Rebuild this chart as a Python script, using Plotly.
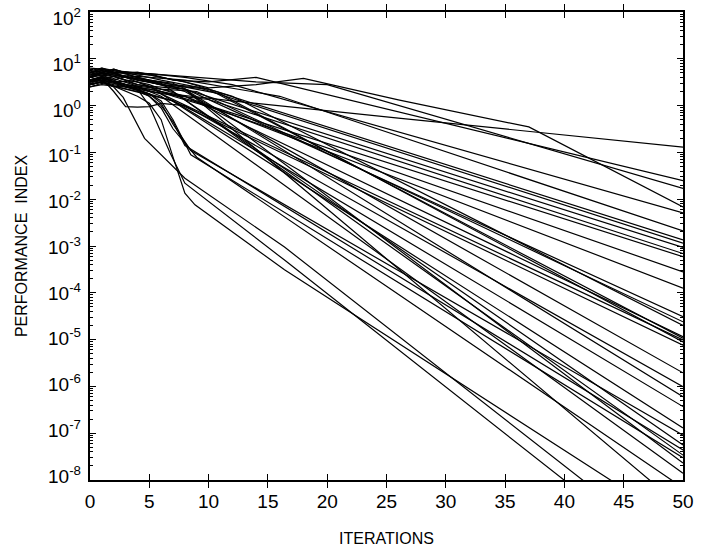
import plotly.graph_objects as go

# ---- slow runs ----
run_01_it = [0, 1, 2, 3, 4, 5, 12, 26, 50]
run_01_pi = [3.5, 4.2, 3.8, 3.2, 2.6, 2.0, 1.26, 0.54, 0.13]
run_02_it = [0, 1, 2, 3, 4, 6, 8, 10, 14, 18, 26, 37, 50]
run_02_pi = [4.0, 5.2, 6.0, 5.0, 5.2, 4.0, 3.2, 2.4, 2.8, 3.8, 1.32, 0.35, 6.8e-3]
run_03_it = [0, 1, 2, 3, 5, 7, 10, 14, 50]
run_03_pi = [4.5, 5.6, 5.0, 5.2, 4.8, 3.5, 3.2, 4.0, 0.025]
run_04_it = [0, 1, 2, 3, 4, 6, 9, 14, 20, 50]
run_04_pi = [5.0, 6.3, 5.6, 5.2, 5.0, 4.6, 4.0, 3.2, 2.8, 0.017]
run_05_it = [0, 1, 2, 3, 4, 5, 8, 12, 50]
run_05_pi = [5.6, 5.0, 6.0, 5.0, 4.5, 4.8, 4.0, 2.8, 5.1e-3]

# ---- medium runs ----
run_06_it = [0, 1, 2, 3, 4, 5, 8, 16, 50]
run_06_pi = [4.2, 5.0, 4.5, 4.0, 4.2, 4.0, 3.5, 1.58, 2.1e-3]
run_07_it = [0, 1, 2, 3, 4, 6, 10, 50]
run_07_pi = [3.2, 4.0, 3.5, 4.2, 3.5, 2.8, 2.24, 1.35e-3]
run_08_it = [0, 1, 2, 3, 5, 7, 9, 50]
run_08_pi = [5.0, 4.5, 5.2, 4.0, 3.5, 2.8, 2.5, 1.15e-3]
run_09_it = [0, 1, 2, 3, 4, 5, 8, 50]
run_09_pi = [3.5, 4.2, 3.2, 3.3, 2.8, 2.6, 2.24, 9.3e-4]
run_10_it = [0, 1, 2, 3, 4, 5, 7, 10, 50]
run_10_pi = [2.8, 3.2, 2.6, 2.5, 2.24, 2.0, 1.66, 1.35, 6.9e-4]
run_11_it = [0, 1, 2, 3, 4, 6, 8, 10, 50]
run_11_pi = [4.0, 3.5, 3.2, 2.8, 2.5, 2.0, 1.41, 1.0, 5.9e-4]
run_12_it = [0, 1, 2, 3, 4, 5, 7, 10, 50]
run_12_pi = [5.2, 5.6, 4.8, 4.0, 3.2, 2.5, 1.58, 0.95, 2.8e-4]
run_13_it = [0, 1, 2, 3, 4, 5, 6, 8, 10, 50]
run_13_pi = [3.2, 3.5, 4.2, 3.5, 3.2, 2.8, 2.24, 1.58, 1.0, 1.26e-4]

# ---- runs ending near 1e-5 ----
run_14_it = [0, 1, 2, 3, 4, 5, 7, 50]
run_14_pi = [4.0, 4.8, 4.2, 4.5, 4.0, 3.5, 3.0, 3.1e-5]
run_15_it = [0, 1, 2, 3, 4, 6, 9, 50]
run_15_pi = [3.2, 3.8, 3.3, 2.8, 2.6, 2.24, 2.0, 2.4e-5]
run_16_it = [0, 1, 2, 3, 5, 8, 12, 50]
run_16_pi = [5.0, 5.6, 4.8, 5.2, 4.5, 3.2, 1.58, 2.0e-5]
run_17_it = [0, 1, 2, 3, 4, 5, 8, 50]
run_17_pi = [2.8, 3.2, 2.8, 2.5, 2.4, 2.24, 1.58, 1.15e-5]
run_18_it = [0, 1, 2, 3, 4, 6, 10, 50]
run_18_pi = [6.3, 6.0, 5.2, 5.0, 4.5, 3.5, 2.24, 1.07e-5]
run_19_it = [0, 1, 2, 3, 4, 5, 6, 50]
run_19_pi = [3.5, 4.0, 3.2, 2.8, 2.5, 2.1, 1.78, 9.8e-6]
run_20_it = [0, 1, 2, 3, 4, 5, 7, 11, 50]
run_20_pi = [4.5, 5.0, 5.6, 4.8, 4.0, 3.5, 2.8, 1.78, 8.9e-6]
run_21_it = [0, 1, 2, 3, 4, 5, 7, 50]
run_21_pi = [2.5, 3.0, 2.6, 2.24, 2.0, 1.66, 1.26, 7.6e-6]

# ---- runs ending near 1e-6 ----
run_22_it = [0, 1, 2, 3, 4, 5, 8, 50]
run_22_pi = [4.2, 5.0, 4.5, 4.0, 3.5, 3.2, 2.0, 1.95e-6]
run_23_it = [0, 1, 2, 3, 4, 5, 6, 8, 50]
run_23_pi = [3.2, 3.8, 2.0, 0.95, 0.93, 0.95, 1.12, 1.0, 9.8e-7]
run_24_it = [0, 1, 2, 3, 4, 5, 6, 8, 50]
run_24_pi = [5.2, 6.0, 5.0, 4.2, 3.5, 3.2, 2.8, 2.24, 6.0e-7]
run_25_it = [0, 1, 2, 3, 4, 5, 7, 50]
run_25_pi = [3.0, 3.5, 3.2, 2.5, 2.1, 1.78, 1.26, 3.7e-7]

# ---- fast runs ----
run_26_it = [0, 1, 2, 3, 4, 5, 50]
run_26_pi = [4.0, 4.5, 4.2, 3.5, 3.2, 2.6, 1.3e-7]
run_27_it = [0, 1, 2, 3, 4, 6, 50]
run_27_pi = [5.0, 5.6, 4.8, 4.2, 3.8, 3.0, 5.6e-8]
run_28_it = [0, 1, 2, 3, 4, 5, 7, 50]
run_28_pi = [3.3, 3.8, 4.2, 3.5, 2.8, 2.5, 2.0, 3.4e-8]
run_29_it = [0, 1, 2, 3, 4, 5, 8, 50]
run_29_pi = [4.5, 5.0, 4.5, 4.0, 3.5, 3.2, 2.24, 2.3e-8]
run_30_it = [0, 1, 2, 3, 4, 5, 6, 50]
run_30_pi = [2.8, 3.3, 3.0, 2.6, 2.4, 2.0, 1.58, 1.4e-8]
run_31_it = [0, 1, 2, 3, 4, 5, 8, 50]
run_31_pi = [5.6, 6.3, 5.2, 4.8, 4.0, 3.3, 2.24, 2.5e-9]

# ---- runs that drop early ----
run_32_it = [0, 1, 2, 3, 4, 5, 6, 7, 8.5, 50]
run_32_pi = [3.2, 3.5, 3.0, 2.5, 2.1, 1.78, 1.12, 0.4, 0.11, 9.1e-8]
run_33_it = [0, 1, 2, 3, 4, 5, 6, 7, 8, 50]
run_33_pi = [2.8, 3.2, 2.6, 2.24, 2.0, 1.58, 1.0, 0.45, 0.14, 4.4e-8]
run_34_it = [0, 1, 2, 3, 4, 5, 6, 7, 8.5, 50]
run_34_pi = [4.0, 4.5, 3.5, 2.8, 2.24, 1.78, 1.26, 0.5, 0.089, 3.0e-8]
run_35_it = [0, 1, 2, 3, 4, 5, 6, 7, 9, 50]
run_35_pi = [3.5, 4.0, 3.2, 2.6, 2.24, 1.58, 0.89, 0.32, 0.079, 6.8e-9]
run_36_it = [0, 1, 2, 2.8, 4.6, 8, 16.4, 50]
run_36_pi = [2.8, 3.2, 2.5, 1.5, 0.2, 0.028, 9.5e-4, 2.1e-10]
run_37_it = [0, 1, 2, 3, 4, 5, 5.9, 6.75, 8, 16.4, 50]
run_37_pi = [3.5, 4.0, 3.2, 2.8, 2.24, 1.0, 0.3, 0.098, 0.022, 5.0e-4, 1.0e-10]
run_38_it = [0, 1, 2, 3, 4, 5, 6, 7, 8, 8.85, 16.4, 50]
run_38_pi = [2.5, 2.8, 2.6, 2.0, 1.58, 1.12, 0.5, 0.079, 0.0135, 7.6e-3, 3.1e-4, 1.0e-9]

runs = [
    (run_01_it, run_01_pi), (run_02_it, run_02_pi), (run_03_it, run_03_pi), (run_04_it, run_04_pi),
    (run_05_it, run_05_pi), (run_06_it, run_06_pi), (run_07_it, run_07_pi), (run_08_it, run_08_pi),
    (run_09_it, run_09_pi), (run_10_it, run_10_pi), (run_11_it, run_11_pi), (run_12_it, run_12_pi),
    (run_13_it, run_13_pi), (run_14_it, run_14_pi), (run_15_it, run_15_pi), (run_16_it, run_16_pi),
    (run_17_it, run_17_pi), (run_18_it, run_18_pi), (run_19_it, run_19_pi), (run_20_it, run_20_pi),
    (run_21_it, run_21_pi), (run_22_it, run_22_pi), (run_23_it, run_23_pi), (run_24_it, run_24_pi),
    (run_25_it, run_25_pi), (run_26_it, run_26_pi), (run_27_it, run_27_pi), (run_28_it, run_28_pi),
    (run_29_it, run_29_pi), (run_30_it, run_30_pi), (run_31_it, run_31_pi), (run_32_it, run_32_pi),
    (run_33_it, run_33_pi), (run_34_it, run_34_pi), (run_35_it, run_35_pi), (run_36_it, run_36_pi),
    (run_37_it, run_37_pi), (run_38_it, run_38_pi),
]

x_ticks = [0, 5, 10, 15, 20, 25, 30, 35, 40, 45, 50]
y_exponents = [-8, -7, -6, -5, -4, -3, -2, -1, 0, 1, 2]
y_tickvals = [10.0 ** e for e in y_exponents]
y_ticktext = ["10<sup>%d</sup>" % e for e in y_exponents]
y_minor = [m * 10.0 ** e for e in y_exponents[:-1] for m in range(2, 10)]

FONT = "Liberation Sans, Arial, Helvetica, sans-serif"

fig = go.Figure()
for it, pi in runs:
    fig.add_trace(go.Scatter(x=it, y=pi, mode="lines",
                             line=dict(color="black", width=1.2),
                             showlegend=False, hoverinfo="skip"))
# empty trace so that the label-only overlay axis is drawn
fig.add_trace(go.Scatter(x=[], y=[], yaxis="y2", showlegend=False, hoverinfo="skip"))

fig.update_layout(
    width=701, height=547,
    margin=dict(l=90, r=18, t=12, b=67),
    paper_bgcolor="white", plot_bgcolor="white",
    font=dict(family=FONT, color="black", size=19),
)
fig.update_xaxes(
    range=[0, 50], tickvals=x_ticks, ticks="inside", ticklen=6, tickwidth=1,
    tickcolor="black", showline=True, linecolor="black", linewidth=2,
    mirror="allticks", showgrid=False, zeroline=False, automargin=False,
    tickfont=dict(size=19), ticklabelstandoff=3,
    title=dict(text="ITERATIONS", font=dict(size=16), standoff=24),
)
fig.update_layout(
    yaxis=dict(
        type="log", range=[-8, 2], tickvals=y_tickvals, showticklabels=False,
        ticks="inside", ticklen=6, tickwidth=1, tickcolor="black",
        minor=dict(tickvals=y_minor, ticks="inside", ticklen=3, tickcolor="black", showgrid=False),
        showline=True, linecolor="black", linewidth=2, mirror="allticks",
        showgrid=False, zeroline=False, automargin=False,
    ),
    # overlay axis carrying only the tick labels (the source labels sit on a slightly compressed spacing)
    yaxis2=dict(
        type="log", range=[-8.087, 2.142], overlaying="y", side="left",
        tickvals=y_tickvals, ticktext=y_ticktext, ticks="", showline=False,
        showgrid=False, zeroline=False, automargin=False,
        tickfont=dict(size=19), ticklabelstandoff=8, ticklabeloverflow="allow",
        title=dict(text="PERFORMANCE  INDEX", font=dict(size=16), standoff=16),
    ),
)

fig.write_html("out.html")
